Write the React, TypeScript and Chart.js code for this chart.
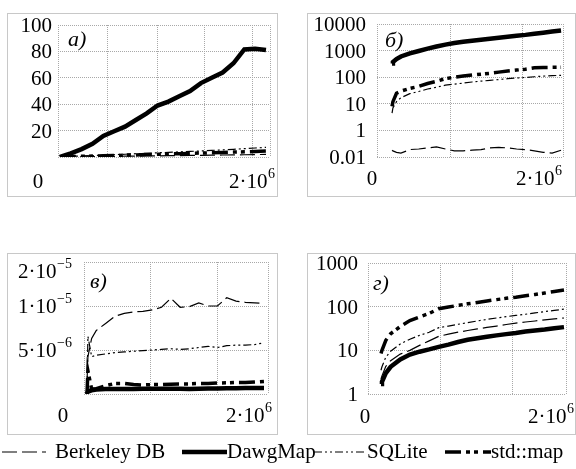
import React, { useEffect, useRef } from 'react';
import { Chart, registerables } from 'chart.js';

Chart.register(...registerables);

const FONT = '"Liberation Serif", "Times New Roman", serif';
const GRID_COLOR = '#a8a8a8';
const BOX_COLOR = '#c8c8c8';

// number of keys (shared x values)
const X_KEYS = [1e5, 1.1e5, 1.5e5, 2e5, 3e5, 4e5, 5e5, 6e5, 7e5, 8e5, 9e5, 1e6, 1.1e6, 1.2e6, 1.3e6, 1.4e6, 1.5e6, 1.6e6, 1.7e6, 1.8e6, 1.9e6, 2e6];
const X_TICK_LABELS = ['0', '2·10^6'];

const SERIES = ['Berkeley DB', 'DawgMap', 'SQLite', 'std::map'];

// panel а)
const A_BERKELEY = [0, 0, 0.1, 0.1, 0.2, 0.3, 0.4, 0.5, 0.6, 0.7, 0.8, 0.9, 1.0, 1.1, 1.2, 1.3, 1.4, 1.5, 1.6, 1.7, 1.8, 2.0];
const A_DAWG = [0, 0.4, 1.5, 2.8, 6, 10, 16, 19.5, 23, 28, 33, 39, 42, 46, 50, 56, 60, 64, 71, 81.5, 82, 81];
const A_SQLITE = [0, 0.1, 0.2, 0.4, 0.8, 1.1, 1.5, 1.8, 2.1, 2.5, 2.8, 3.2, 3.5, 3.9, 4.2, 4.6, 5, 5.4, 5.8, 6.3, 6.8, 7.3];
const A_STDMAP = [0, 0.1, 0.2, 0.3, 0.5, 0.7, 0.9, 1.1, 1.4, 1.6, 1.8, 2.0, 2.3, 2.5, 2.7, 3.0, 3.2, 3.4, 3.7, 3.9, 4.2, 4.5];
const A_Y_TICKS = [0, 20, 40, 60, 80, 100];
const A_Y_LABELS = ['', '20', '40', '60', '80', '100'];

// panel б)
const B_BERKELEY = [0.18, 0.17, 0.15, 0.14, 0.19, 0.2, 0.22, 0.24, 0.2, 0.17, 0.17, 0.18, 0.19, 0.22, 0.23, 0.22, 0.2, 0.19, 0.17, 0.15, 0.14, 0.18];
const B_DAWG = [330, 370, 480, 600, 790, 970, 1180, 1420, 1680, 1930, 2150, 2350, 2550, 2800, 3050, 3300, 3600, 3900, 4300, 4700, 5200, 5700];
const B_SQLITE = [4.5, 7, 12, 17, 24, 29, 36, 42, 50, 55, 60, 66, 71, 76, 82, 88, 93, 98, 104, 110, 114, 118];
const B_STDMAP = [8, 12, 25, 30, 38, 45, 58, 70, 88, 100, 110, 120, 130, 140, 155, 170, 185, 200, 225, 232, 235, 238];
const B_Y_TICKS = [0.1, 1, 10, 100, 1000, 10000];
const B_Y_LABELS = ['0.01', '1', '10', '100', '1000', '10000'];

// panel в)
const C_BERKELEY = [3e-6, 4.5e-6, 6e-6, 6.8e-6, 7.6e-6, 8.5e-6, 8.9e-6, 9.1e-6, 9.2e-6, 9.4e-6, 9.8e-6, 1.13e-5, 9.8e-6, 9.9e-6, 1.05e-5, 1.0e-5, 1.0e-5, 1.14e-5, 1.08e-5, 1.06e-5, 1.05e-5, 1.04e-5];
const C_DAWG = [2.5e-6, 2.6e-6, 2.65e-6, 2.68e-6, 2.7e-6, 2.7e-6, 2.7e-6, 2.7e-6, 2.72e-6, 2.72e-6, 2.72e-6, 2.72e-6, 2.72e-6, 2.7e-6, 2.72e-6, 2.73e-6, 2.73e-6, 2.74e-6, 2.74e-6, 2.75e-6, 2.75e-6, 2.75e-6];
const C_SQLITE = [2.5e-6, 6.2e-6, 4.5e-6, 4.6e-6, 4.7e-6, 4.8e-6, 4.85e-6, 4.9e-6, 4.95e-6, 5.0e-6, 5.05e-6, 5.1e-6, 5.05e-6, 5.1e-6, 5.2e-6, 5.3e-6, 5.2e-6, 5.35e-6, 5.4e-6, 5.4e-6, 5.45e-6, 5.6e-6];
const C_STDMAP = [2.5e-6, 3.6e-6, 2.7e-6, 2.72e-6, 2.85e-6, 2.95e-6, 2.95e-6, 2.9e-6, 2.88e-6, 2.9e-6, 2.9e-6, 2.92e-6, 2.93e-6, 2.93e-6, 2.95e-6, 2.95e-6, 2.97e-6, 2.98e-6, 3.0e-6, 3.0e-6, 3.02e-6, 3.05e-6];
const C_Y_TICKS = [2.5e-6, 5e-6, 1e-5, 2e-5];
const C_Y_LABELS = ['', '5·10^−6', '1·10^−5', '2·10^−5'];

// panel г)
const D_BERKELEY = [2.2, 2.6, 4.3, 5.8, 8.2, 10, 13, 16.5, 21, 23.5, 26, 28.5, 31, 33.5, 36, 39, 42, 44.5, 47, 50, 52.5, 55];
const D_DAWG = [1.7, 1.9, 3.0, 4.2, 6.2, 8.0, 9.3, 10.5, 12, 13.5, 15.5, 17.5, 19, 20.5, 22, 23.5, 25, 27, 28.5, 30, 32, 34];
const D_SQLITE = [3.5, 4.2, 7, 9.5, 14, 18, 22, 26, 33, 36, 39.5, 43, 47, 51, 55, 59, 63, 67, 72, 77, 82, 88];
const D_STDMAP = [8.5, 10, 17, 24, 35, 48, 58, 70, 90, 98, 107, 116, 125, 135, 145, 155, 165, 178, 190, 205, 222, 240];
const D_Y_TICKS = [1, 10, 100, 1000];
const D_Y_LABELS = ['1', '10', '100', '1000'];

const STYLES: Record<string, { width: number; dash: number[] }> = {
  'Berkeley DB': { width: 1.2, dash: [15, 5] },
  DawgMap: { width: 4.5, dash: [] },
  SQLite: { width: 1.2, dash: [8, 3, 2, 3, 2, 3] },
  'std::map': { width: 3.5, dash: [16, 5, 4, 4, 4, 5] },
};

interface PanelSpec {
  letter: string;
  box: { x: number; y: number; w: number; h: number };
  plot: { l: number; t: number; r: number; b: number };
  yType: 'linear' | 'logarithmic';
  yTicks: number[];
  yLabels: string[];
  xMin: number;
  xMax: number;
  xGrid: number[];
  values: number[][];
  yGap: number;
  x0dx: number;
  x1dx: number;
  xdy: number;
  letterDx: number;
  letterDy: number;
}

const PANELS: PanelSpec[] = [
  {
    letter: 'а)', box: { x: 7, y: 13, w: 271, h: 184 }, plot: { l: 58, t: 25, r: 270, b: 157 },
    yType: 'linear', yTicks: A_Y_TICKS, yLabels: A_Y_LABELS,
    xMin: 8.2e4, xMax: 2.037e6, xGrid: [5.43e5, 9.95e5, 1.437e6, 1.88e6],
    values: [A_BERKELEY, A_DAWG, A_SQLITE, A_STDMAP],
    yGap: 6, x0dx: -20, x1dx: 5, xdy: 31, letterDx: 10, letterDy: 21,
  },
  {
    letter: 'б)', box: { x: 307, y: 13, w: 269, h: 184 }, plot: { l: 377, t: 24, r: 563, b: 157 },
    yType: 'logarithmic', yTicks: B_Y_TICKS, yLabels: B_Y_LABELS,
    xMin: -6.9e4, xMax: 2.022e6, xGrid: [7.52e5, 1.562e6],
    values: [B_BERKELEY, B_DAWG, B_SQLITE, B_STDMAP],
    yGap: 11, x0dx: -5, x1dx: -1, xdy: 28, letterDx: 8, letterDy: 23,
  },
  {
    letter: 'в)', box: { x: 7, y: 253, w: 271, h: 182 }, plot: { l: 84, t: 262, r: 268, b: 394 },
    yType: 'logarithmic', yTicks: C_Y_TICKS, yLabels: C_Y_LABELS,
    xMin: 6.8e4, xMax: 2.043e6, xGrid: [7.87e5, 1.5e6],
    values: [C_BERKELEY, C_DAWG, C_SQLITE, C_STDMAP],
    yGap: 12, x0dx: -21, x1dx: 4, xdy: 28, letterDx: 6, letterDy: 26,
  },
  {
    letter: 'г)', box: { x: 307, y: 253, w: 269, h: 182 }, plot: { l: 368, t: 263, r: 566, b: 394 },
    yType: 'logarithmic', yTicks: D_Y_TICKS, yLabels: D_Y_LABELS,
    xMin: -3.5e4, xMax: 2.021e6, xGrid: [7.13e5, 1.4705e6],
    values: [D_BERKELEY, D_DAWG, D_SQLITE, D_STDMAP],
    yGap: 10, x0dx: -3, x1dx: 8, xdy: 29, letterDx: 5, letterDy: 27,
  },
];

function drawRich(ctx: CanvasRenderingContext2D, text: string, x: number, y: number, align: 'left' | 'right' | 'center') {
  const [base, sup] = text.split('^');
  ctx.font = `21px ${FONT}`;
  const wb = ctx.measureText(base).width;
  let ws = 0;
  if (sup) {
    ctx.font = `14px ${FONT}`;
    ws = ctx.measureText(sup).width + 0.5;
  }
  const total = wb + ws;
  const x0 = align === 'right' ? x - total : align === 'center' ? x - total / 2 : x;
  ctx.textAlign = 'left';
  ctx.textBaseline = 'alphabetic';
  ctx.font = `21px ${FONT}`;
  ctx.fillText(base, x0, y);
  if (sup) {
    ctx.font = `14px ${FONT}`;
    ctx.fillText(sup, x0 + wb + 0.5, y - 10);
  }
}

function Panel({ spec }: { spec: PanelSpec }) {
  const ref = useRef<HTMLCanvasElement>(null);
  const cw = spec.box.w - 2;
  const ch = spec.box.h - 2;
  useEffect(() => {
    const canvas = ref.current!;
    const ox = spec.box.x + 1;
    const oy = spec.box.y + 1;
    const pad = {
      left: spec.plot.l - ox,
      top: spec.plot.t - oy,
      right: ox + cw - spec.plot.r,
      bottom: oy + ch - spec.plot.b,
    };
    const labelPlugin = {
      id: 'panelLabels',
      afterDraw(chart: any) {
        const ctx: CanvasRenderingContext2D = chart.ctx;
        const area = chart.chartArea;
        const ys = chart.scales.y;
        ctx.save();
        ctx.fillStyle = '#000';
        spec.yTicks.forEach((v, i) => {
          const lbl = spec.yLabels[i];
          if (!lbl) return;
          const py = ys.getPixelForValue(v);
          let base = py + 7;
          if (lbl.includes('^')) base = Math.max(base, 24);
          drawRich(ctx, lbl, area.left - spec.yGap, base, 'right');
        });
        drawRich(ctx, X_TICK_LABELS[0], area.left + spec.x0dx, area.bottom + spec.xdy, 'center');
        drawRich(ctx, X_TICK_LABELS[1], area.right + spec.x1dx, area.bottom + spec.xdy, 'right');
        ctx.font = `italic 22px ${FONT}`;
        ctx.textAlign = 'left';
        ctx.textBaseline = 'alphabetic';
        ctx.fillText(spec.letter, area.left + spec.letterDx, area.top + spec.letterDy);
        ctx.restore();
      },
    };
    const yMin = spec.yTicks[0];
    const yMax = spec.yTicks[spec.yTicks.length - 1];
    const chart = new Chart(canvas, {
      type: 'line',
      data: {
        datasets: SERIES.map((name, si) => ({
          label: name,
          data: X_KEYS.map((x, i) => ({ x, y: spec.values[si][i] })),
          borderColor: '#000',
          backgroundColor: '#000',
          borderWidth: STYLES[name].width,
          borderDash: STYLES[name].dash,
          pointRadius: 0,
          tension: 0,
          fill: false,
        })),
      },
      options: {
        animation: false,
        responsive: false,
        maintainAspectRatio: false,
        events: [],
        layout: { padding: pad, autoPadding: false },
        plugins: { legend: { display: false }, tooltip: { enabled: false } },
        scales: {
          x: {
            type: 'linear',
            min: spec.xMin,
            max: spec.xMax,
            afterBuildTicks: (s: any) => {
              s.ticks = [spec.xMin, ...spec.xGrid, spec.xMax].map((v) => ({ value: v }));
            },
            afterFit: (s: any) => { s.height = 0; },
            ticks: { display: false },
            grid: { color: GRID_COLOR, lineWidth: 1, drawTicks: false },
            border: { display: false, dash: [1, 1] },
          },
          y: {
            type: spec.yType,
            min: yMin,
            max: yMax,
            afterBuildTicks: (s: any) => {
              s.ticks = spec.yTicks.map((v) => ({ value: v }));
            },
            afterFit: (s: any) => { s.width = 0; },
            ticks: { display: false },
            grid: { color: GRID_COLOR, lineWidth: 1, drawTicks: false },
            border: { display: false, dash: [1, 1] },
          },
        },
      } as any,
      plugins: [labelPlugin],
    });
    return () => chart.destroy();
  }, []);
  return (
    <div
      style={{
        position: 'absolute',
        left: spec.box.x,
        top: spec.box.y,
        width: cw,
        height: ch,
        border: `1px solid ${BOX_COLOR}`,
      }}
    >
      <canvas ref={ref} width={cw} height={ch} style={{ display: 'block', width: cw, height: ch }} />
    </div>
  );
}

const LEGEND_ITEMS = [
  { name: 'Berkeley DB', x0: 2, x1: 46, tx: 55 },
  { name: 'DawgMap', x0: 182, x1: 227, tx: 227 },
  { name: 'SQLite', x0: 314, x1: 364, tx: 367 },
  { name: 'std::map', x0: 445, x1: 491, tx: 491 },
];

function Legend() {
  const ref = useRef<HTMLCanvasElement>(null);
  useEffect(() => {
    const ctx = ref.current!.getContext('2d')!;
    ctx.clearRect(0, 0, 576, 33);
    ctx.fillStyle = '#000';
    ctx.strokeStyle = '#000';
    LEGEND_ITEMS.forEach((it) => {
      const st = STYLES[it.name];
      ctx.save();
      ctx.lineWidth = st.name === 'DawgMap' ? 4 : st.width;
      ctx.setLineDash(st.dash);
      ctx.beginPath();
      ctx.moveTo(it.x0, 16);
      ctx.lineTo(it.x1, 16);
      ctx.stroke();
      ctx.restore();
      ctx.font = `21px ${FONT}`;
      ctx.textAlign = 'left';
      ctx.textBaseline = 'alphabetic';
      ctx.fillText(it.name, it.tx, 22);
    });
  }, []);
  return (
    <canvas
      ref={ref}
      width={576}
      height={33}
      style={{ position: 'absolute', left: 0, top: 436, width: 576, height: 33, display: 'block' }}
    />
  );
}

export default function App() {
  return (
    <div style={{ position: 'fixed', left: 0, top: 0, width: 576, height: 469, background: '#fff', overflow: 'hidden' }}>
      {PANELS.map((p) => (
        <Panel key={p.letter} spec={p} />
      ))}
      <Legend />
    </div>
  );
}
